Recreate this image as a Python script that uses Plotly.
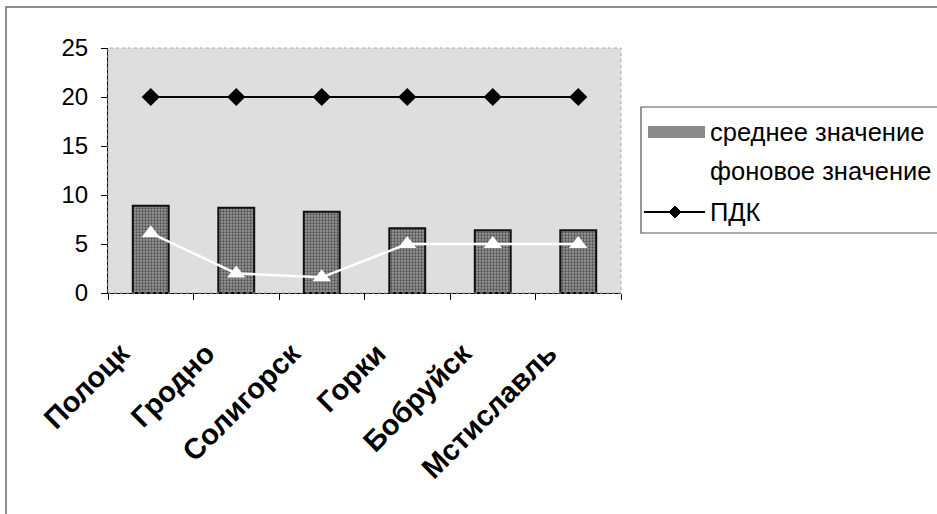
import plotly.graph_objects as go

# Cities and measured values
cities = ["Полоцк", "Гродно", "Солигорск", "Горки", "Бобруйск", "Мстиславль"]
mean_values = [8.9, 8.7, 8.3, 6.6, 6.4, 6.4]        # среднее значение
background_values = [6.1, 2.0, 1.6, 5.0, 5.0, 5.0]  # фоновое значение
limit_values = [20, 20, 20, 20, 20, 20]             # ПДК

y_ticks = [0, 5, 10, 15, 20, 25]

legend_names = ["среднее значение", "фоновое значение", "ПДК"]

W, H = 937, 514
FONT = "Liberation Sans, Arial, sans-serif"

def px(x):
    return x / W

def py(y):
    return 1 - y / H

fig = go.Figure()

fig.add_trace(go.Bar(
    x=cities, y=mean_values, name=legend_names[0],
    marker=dict(
        color="#8a8a8a",
        line=dict(color="#111111", width=2),
        pattern=dict(shape=".", fgcolor="#4f4f4f", bgcolor="#999999", size=3, solidity=0.45),
    ),
    width=0.42, showlegend=False,
))

fig.add_trace(go.Scatter(
    x=cities, y=background_values, name=legend_names[1], mode="lines+markers",
    line=dict(color="white", width=2.5),
    marker=dict(symbol="triangle-up", size=16, color="white"),
    showlegend=False,
))

fig.add_trace(go.Scatter(
    x=cities, y=limit_values, name=legend_names[2], mode="lines+markers",
    line=dict(color="black", width=2),
    marker=dict(symbol="diamond", size=14, color="black"),
    showlegend=False,
))

def rect(x0, y0, x1, y1, **kw):
    return dict(type="rect", xref="paper", yref="paper",
                x0=px(x0), x1=px(x1), y0=py(y1), y1=py(y0), **kw)

def diamond_path(cx, cy, r):
    pts = [(cx, cy - r), (cx + r, cy), (cx, cy + r), (cx - r, cy)]
    return "M " + " L ".join(f"{px(a):.5f},{py(b):.5f}" for a, b in pts) + " Z"

shapes = [
    # outer frame
    rect(6, 7, 960, 540, line=dict(color="#6a6a6a", width=1.5)),
    # plot area outline (speckled edge)
    rect(108, 48, 621, 293, line=dict(color="#a8a8a8", width=1, dash="dot")),
    # legend box
    rect(641, 107, 960, 233, line=dict(color="#555555", width=1.2), fillcolor="white"),
    # legend swatch for the bars
    rect(648, 126, 705, 138, line=dict(width=0), fillcolor="#8a8a8a"),
    # legend line for ПДК
    dict(type="line", xref="paper", yref="paper",
         x0=px(644), x1=px(705), y0=py(212), y1=py(212),
         line=dict(color="black", width=2)),
    dict(type="path", xref="paper", yref="paper", path=diamond_path(675, 212, 6),
         fillcolor="black", line=dict(color="black", width=1)),
]

annotations = []
for name, yy in zip(legend_names, [132, 171, 212]):
    annotations.append(dict(
        x=px(708), y=py(yy), xref="paper", yref="paper", text=name, showarrow=False,
        xanchor="left", yanchor="middle",
        font=dict(family=FONT, size=25.5, color="black"),
    ))

fig.update_layout(
    template="none",
    width=W, height=H,
    margin=dict(l=0, r=0, t=0, b=0, pad=0, autoexpand=False),
    paper_bgcolor="white",
    plot_bgcolor="#dedede",
    bargap=0.58,
    showlegend=False,
    xaxis=dict(
        domain=[px(108), px(621)],
        type="category",
        automargin=False,
        tickmode="array", tickvals=cities, ticktext=cities,
        tickson="boundaries",
        ticks="outside", ticklen=6, tickcolor="black",
        showline=True, linecolor="black", linewidth=1,
        showgrid=False, zeroline=False,
        tickangle=-45,
        ticklabelshift=-30,
        ticklabelstandoff=31,
        tickfont=dict(family=FONT, size=29, color="black", weight="bold"),
    ),
    yaxis=dict(
        domain=[py(293), py(48)],
        range=[0, 25],
        automargin=False,
        tickmode="array", tickvals=y_ticks,
        ticks="outside", ticklen=6, tickcolor="black",
        showline=True, linecolor="black", linewidth=1,
        showgrid=False, zeroline=False,
        ticklabelstandoff=8,
        tickfont=dict(family=FONT, size=24, color="black"),
    ),
    shapes=shapes,
    annotations=annotations,
)

fig.write_html("out.html")
